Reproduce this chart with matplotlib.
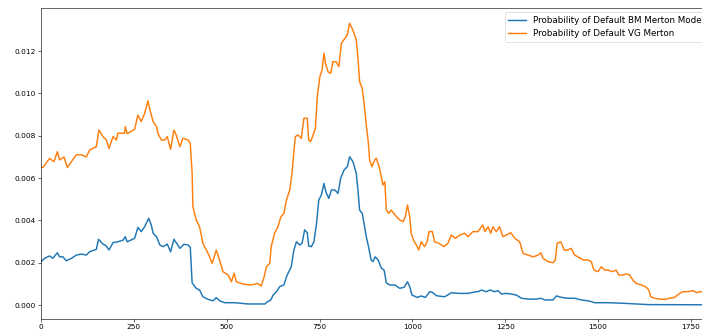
import numpy as np
import matplotlib
matplotlib.use("Agg")
import matplotlib.pyplot as plt

# time index / probability of default, VG Merton model
vg_t = [0, 5, 23, 35, 44, 50, 62, 71, 82, 95, 109, 122, 131, 149, 156, 167, 176, 183,
        194, 203, 207, 225, 227, 232, 252, 261, 270, 279, 288, 293, 302, 311, 315, 324,
        333, 340, 349, 358, 364, 374, 382, 396, 402, 407, 409, 418, 427, 436, 450, 461,
        472, 481, 490, 504, 513, 520, 526, 544, 566, 584, 593, 601, 607, 616, 620, 629,
        638, 646, 654, 661, 670, 676, 681, 685, 692, 701, 708, 717, 721, 726, 733, 739,
        744, 751, 757, 762, 766, 773, 780, 786, 795, 802, 809, 818, 825, 831, 840, 849,
        854, 858, 865, 870, 876, 881, 885, 891, 899, 903, 912, 917, 921, 926, 930, 936,
        943, 953, 966, 975, 981, 987, 993, 997, 1005, 1011, 1017, 1024, 1033, 1040, 1045,
        1054, 1060, 1071, 1085, 1096, 1105, 1116, 1128, 1141, 1150, 1163, 1177, 1186,
        1190, 1195, 1204, 1211, 1217, 1226, 1235, 1244, 1253, 1265, 1276, 1289, 1298,
        1312, 1325, 1339, 1346, 1352, 1365, 1379, 1385, 1390, 1400, 1409, 1419, 1428,
        1437, 1446, 1460, 1473, 1482, 1489, 1500, 1509, 1518, 1527, 1540, 1549, 1556,
        1567, 1577, 1585, 1594, 1603, 1617, 1630, 1637, 1642, 1653, 1666, 1680, 1693,
        1706, 1720, 1729, 1742, 1756, 1765, 1774, 1781, 1807]
vg_pd = [0.00652, 0.0065, 0.00693, 0.00678, 0.00725, 0.00686, 0.0070, 0.0065, 0.00678,
         0.0071, 0.0071, 0.0070, 0.00733, 0.00748, 0.00827, 0.00796, 0.0078, 0.0074,
         0.00796, 0.0078, 0.00812, 0.00812, 0.00843, 0.0081, 0.0083, 0.00898, 0.00867,
         0.00906, 0.00965, 0.00925, 0.00867, 0.00843, 0.00812, 0.0078, 0.0078, 0.00796,
         0.00736, 0.00827, 0.00804, 0.00748, 0.00788, 0.0078, 0.00764, 0.00623, 0.00465,
         0.00402, 0.0037, 0.00292, 0.00244, 0.00197, 0.0026, 0.00213, 0.00158, 0.00142,
         0.0011, 0.0015, 0.0011, 0.00099, 0.00095, 0.00102, 0.0009, 0.00134, 0.00181,
         0.00197, 0.00276, 0.00339, 0.0037, 0.00417, 0.00433, 0.00496, 0.00544, 0.00623,
         0.00725, 0.00796, 0.00804, 0.00788, 0.00883, 0.00883, 0.0078, 0.00772, 0.00804,
         0.00835, 0.00985, 0.0108, 0.01111, 0.0119, 0.01143, 0.01103, 0.01095, 0.0115,
         0.0115, 0.01127, 0.01237, 0.0126, 0.01277, 0.01332, 0.013, 0.01253, 0.01158,
         0.01056, 0.01025, 0.00954, 0.00851, 0.00776, 0.00686, 0.00654, 0.00686, 0.00694,
         0.00646, 0.00599, 0.00567, 0.00583, 0.00449, 0.00433, 0.00449, 0.00426, 0.00402,
         0.00394, 0.00417, 0.00473, 0.00417, 0.00339, 0.00299, 0.00284, 0.0026, 0.00299,
         0.00276, 0.00299, 0.00347, 0.00347, 0.00299, 0.00292, 0.00276, 0.00292, 0.00331,
         0.00315, 0.00331, 0.00339, 0.00323, 0.00347, 0.00347, 0.0037, 0.00378, 0.00347,
         0.0037, 0.00339, 0.0037, 0.00347, 0.0037, 0.00323, 0.00331, 0.00342, 0.00315,
         0.00299, 0.00244, 0.00236, 0.00228, 0.00236, 0.00247, 0.00221, 0.00205, 0.002,
         0.00213, 0.00292, 0.00299, 0.0026, 0.0026, 0.00268, 0.00236, 0.00228, 0.00213,
         0.00213, 0.00205, 0.00165, 0.00158, 0.00181, 0.00165, 0.00165, 0.00158, 0.00165,
         0.00142, 0.00142, 0.00147, 0.00142, 0.00118, 0.00102, 0.00095, 0.00084, 0.00071,
         0.00039, 0.00032, 0.00028, 0.00027, 0.00032, 0.00036, 0.00055, 0.00063, 0.00063,
         0.00068, 0.00058, 0.00063, 0.00063, 0.00064]

# time index / probability of default, BM Merton model
bm_t = [0, 10, 23, 32, 44, 50, 59, 68, 82, 95, 109, 122, 131, 149, 155, 167, 176, 183,
        194, 207, 221, 227, 232, 252, 261, 270, 279, 290, 297, 302, 311, 320, 329, 340,
        349, 358, 364, 374, 385, 396, 402, 407, 418, 427, 436, 450, 463, 472, 481, 495,
        522, 558, 603, 610, 619, 625, 634, 643, 654, 663, 674, 681, 688, 697, 703, 710,
        717, 721, 728, 735, 742, 748, 755, 762, 767, 775, 782, 791, 800, 807, 816, 825,
        831, 840, 849, 854, 858, 865, 870, 876, 882, 889, 894, 900, 908, 917, 924, 930,
        939, 953, 966, 978, 987, 993, 999, 1014, 1024, 1035, 1047, 1054, 1065, 1087,
        1105, 1128, 1150, 1172, 1177, 1186, 1199, 1209, 1222, 1231, 1240, 1253, 1267,
        1280, 1294, 1312, 1334, 1346, 1357, 1379, 1388, 1402, 1419, 1437, 1455, 1473,
        1482, 1491, 1527, 1572, 1635, 1807]
bm_pd = [0.00205, 0.00221, 0.00232, 0.00221, 0.00247, 0.00228, 0.00228, 0.00209,
         0.00221, 0.00236, 0.00241, 0.00236, 0.00252, 0.00263, 0.00311, 0.00288,
         0.00279, 0.0026, 0.00295, 0.00299, 0.00307, 0.00323, 0.00299, 0.00315, 0.00367,
         0.00347, 0.0037, 0.0041, 0.00378, 0.00339, 0.00323, 0.00284, 0.00276, 0.00288,
         0.00252, 0.00311, 0.00295, 0.00268, 0.00287, 0.00284, 0.00273, 0.00105, 0.00079,
         0.00071, 0.00039, 0.00027, 0.0002, 0.00035, 0.0002, 0.00011, 0.00011, 0.00005,
         0.00005, 0.00016, 0.00024, 0.00047, 0.00063, 0.00087, 0.00095, 0.00142, 0.00181,
         0.0026, 0.00299, 0.00284, 0.00292, 0.00355, 0.00342, 0.00279, 0.00276, 0.00299,
         0.00386, 0.00496, 0.0052, 0.00575, 0.00536, 0.00504, 0.00544, 0.00544, 0.00528,
         0.00599, 0.00638, 0.00654, 0.00701, 0.00678, 0.00623, 0.00536, 0.00449, 0.00433,
         0.00386, 0.00323, 0.00276, 0.00213, 0.00205, 0.00228, 0.00213, 0.00173, 0.00165,
         0.00105, 0.00095, 0.00095, 0.00079, 0.00084, 0.0011, 0.00087, 0.00047, 0.00036,
         0.00043, 0.00036, 0.00063, 0.0006, 0.00044, 0.00039, 0.00058, 0.00055, 0.00055,
         0.00063, 0.00063, 0.00071, 0.00063, 0.00071, 0.00063, 0.00068, 0.00052, 0.00055,
         0.00052, 0.00047, 0.00032, 0.00028, 0.00028, 0.00032, 0.00024, 0.00024, 0.00043,
         0.00036, 0.00032, 0.00032, 0.00024, 0.0002, 0.00016, 0.00011, 0.00011, 0.00008,
         0.00002, 0.00001]

dpi = 52.8
fig = plt.figure(figsize=(702 / dpi, 336 / dpi), dpi=dpi)
# axes run a little past the right edge of the canvas
ax = fig.add_axes([41 / 702, 17 / 336, 671 / 702, 311 / 336])

ax.plot(bm_t, bm_pd, color="#1f77b4", lw=2.0, label="Probability of Default BM Merton Model")
ax.plot(vg_t, vg_pd, color="#ff7f0e", lw=2.0, label="Probability of Default VG Merton")

ax.set_xlim(0, 1807)
ax.set_ylim(-0.00066, 0.01404)
ax.set_xticks([0, 250, 500, 750, 1000, 1250, 1500, 1750])
ax.set_yticks(np.arange(0, 0.0121, 0.002))
ax.legend(loc="upper right", fontsize=12)

fig.savefig("out.png", dpi=dpi)
